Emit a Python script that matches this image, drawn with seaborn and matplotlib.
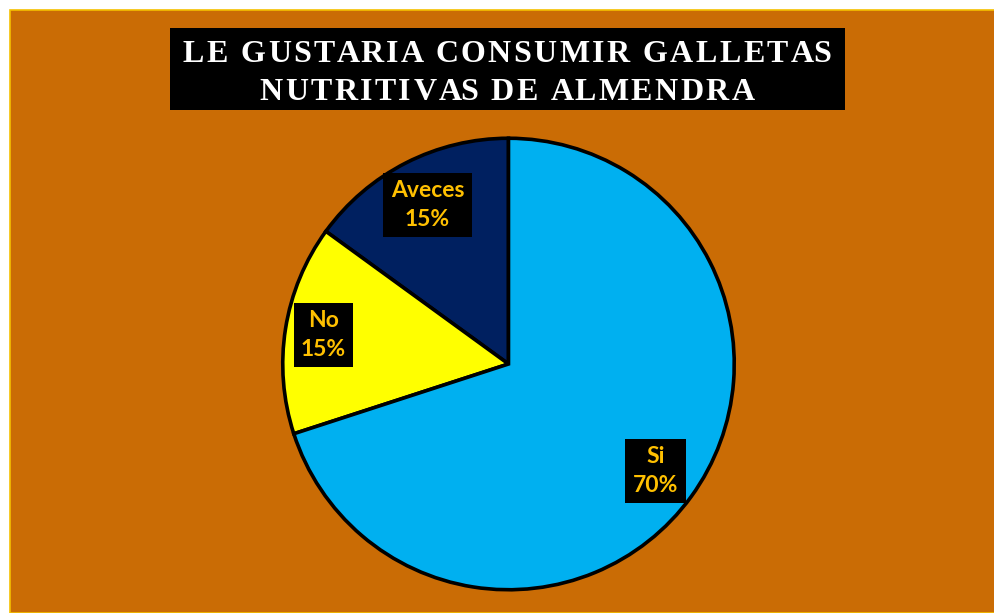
import matplotlib
matplotlib.use('Agg')
import numpy as np
import matplotlib.pyplot as plt
from matplotlib.patches import Rectangle
from matplotlib.font_manager import FontProperties
import seaborn as sns

''' DATA
'''
categories = ['Aveces', 'No', 'Si']
percent = [15, 15, 70]
title_lines = ['LE GUSTARIA CONSUMIR GALLETAS', 'NUTRITIVAS DE ALMENDRA']

''' STYLE
'''
sns.set_style('white')
plt.rcParams['font.family'] = ['Lato', 'DejaVu Sans']
pal = sns.color_palette(['#002060', '#FFFF00', '#00B0F0'])
bg = '#CA6C05'

W, H = 995, 613
fig = plt.figure(figsize=(W / 100, H / 100), dpi=100, facecolor='white')

# orange chart area with gold edge at top/left
fig.patches.append(Rectangle((10 / W, 0), 1, 1 - 10 / H, transform=fig.transFigure,
                             facecolor=bg, edgecolor='#F5C000', linewidth=1.2, zorder=0))

''' PIE
'''
cx, cy, r = 508.5, 364, 228
ax = fig.add_axes([(cx - r) / W, (H - cy - r) / H, 2 * r / W, 2 * r / H])
ax.set_zorder(3)
ax.set_facecolor('none')
labels = [c + '\n' + str(p) + '%' for c, p in zip(categories, percent)]
wedges, texts = ax.pie(percent, labels=labels, colors=pal, startangle=90,
                       counterclock=True, labeldistance=0.8,
                       wedgeprops=dict(edgecolor='black', linewidth=2.6),
                       textprops=dict(color='#FFC000', fontsize=16.5, fontweight='bold',
                                      linespacing=1.45))
for w, t, d in zip(wedges, texts, [0.79, 0.83, 0.805]):
    a = np.deg2rad((w.theta1 + w.theta2) / 2)
    t.set_position((d * np.cos(a), d * np.sin(a)))
    t.set_ha('center')
    t.set_va('center')
    t.set_bbox(dict(facecolor='black', edgecolor='none', boxstyle='square,pad=0.32'))
ax.set_xlim(-1.01, 1.01)
ax.set_ylim(-1.01, 1.01)
ax.set_aspect('equal')
ax.axis('off')

''' TITLE (letter-spaced, placed char by char)
'''
fig.patches.append(Rectangle((170 / W, 1 - 110 / H), 675 / W, 82 / H, transform=fig.transFigure,
                             facecolor='black', edgecolor='none', zorder=1))
fp = FontProperties(family='Liberation Serif', weight='bold', size=23)
renderer = fig.canvas.get_renderer()

def tw(s):
    return renderer.get_text_width_height_descent(s, fp, ismath=False)[0]

def adv(s):
    # advance width in px of string s (trailing spaces included)
    return tw(s + 'L') - tw('L')

target = 649.0
first = title_lines[0]
track = (target - adv(first[:-1]) - tw(first[-1])) / (len(first) - 1)
ys = [1 - 62.5 / H, 1 - 99.5 / H]
for line, yy in zip(title_lines, ys):
    total = adv(line[:-1]) + tw(line[-1]) + track * (len(line) - 1)
    x0 = 507 - total / 2
    for i, ch in enumerate(line):
        if ch == ' ':
            continue
        x = x0 + adv(line[:i]) + track * i
        fig.text(x / W, yy, ch, ha='left', va='baseline', color='white', fontproperties=fp, zorder=2)

plt.savefig('out.png', dpi=100, facecolor='white')
